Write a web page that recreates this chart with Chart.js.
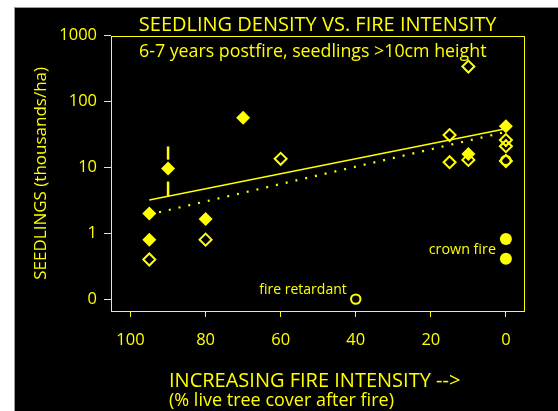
<!DOCTYPE html>
<html>
<head>
<meta charset="utf-8">
<script src="https://cdn.jsdelivr.net/npm/chart.js@4/dist/chart.umd.min.js"></script>
<style>
  html, body { margin: 0; padding: 0; background: #fff; width: 558px; height: 411px; overflow: hidden; }
  #frame { position: absolute; left: 14px; top: 7px; width: 544px; height: 404px;
           border-left: 1px solid #9c9c9c; border-top: 1px solid #9c9c9c; background: #000; }
  canvas { display: block; }
</style>
</head>
<body>
<div id="frame"><canvas id="chart" width="544" height="404"></canvas></div>
<script>
// x: % live tree cover after fire (reversed axis), y: seedlings in thousands/ha (log axis)
const filledDiamondX = [90, 95, 95, 80, 70, 10, 0];
const filledDiamondY = [9.6, 2.0, 0.8, 1.65, 57, 16, 42];

const openDiamondX = [95, 80, 60, 15, 15, 10, 10, 0, 0, 0];
const openDiamondY = [0.4, 0.8, 13.5, 31, 12, 340, 13, 26, 21, 12.5];

const openCircleX = [40, 0];
const openCircleY = [0.1, 12.8];

const crownFireX = [0, 0];
const crownFireY = [0.82, 0.41];

// regression lines (endpoints)
const fitSolidX = [95, 0];
const fitSolidY = [3.2, 38.5];
const fitDottedX = [95, 0];
const fitDottedY = [1.93, 34.6];

// split error bar on the 90% point
const errorBarX = 90;
const errorBarSegments = [[20.8, 13.1], [6.1, 3.6]];

const xTickValues = [100, 80, 60, 40, 20, 0];
const yTickValues = [0.1, 1, 10, 100, 1000];
const yTickLabels = ['0', '1', '10', '100', '1000'];

const YELLOW = '#ffff00';
const FONT = "'Open Sans', 'Noto Sans', sans-serif";

const pts = (xs, ys) => xs.map((x, i) => ({ x: x, y: ys[i] }));

const annotations = {
  id: 'annotations',
  beforeDatasetsDraw(chart) {
    const { ctx, chartArea: a, scales: { x, y } } = chart;
    ctx.save();
    // plot frame
    ctx.strokeStyle = YELLOW;
    ctx.lineWidth = 1;
    const l = Math.round(a.left) + 0.5, r = Math.round(a.right) + 0.5;
    const t = Math.round(a.top) + 0.5, b = Math.round(a.bottom) + 0.5;
    ctx.strokeRect(l, t, r - l, b - t);
    // error bar
    ctx.lineWidth = 2.5;
    const ex = x.getPixelForValue(errorBarX);
    errorBarSegments.forEach(([hi, lo]) => {
      ctx.beginPath();
      ctx.moveTo(ex, y.getPixelForValue(hi));
      ctx.lineTo(ex, y.getPixelForValue(lo));
      ctx.stroke();
    });
    ctx.restore();
  },
  afterDraw(chart) {
    const { ctx, chartArea: a, scales: { x, y } } = chart;
    ctx.save();
    ctx.fillStyle = YELLOW;
    ctx.textBaseline = 'alphabetic';

    ctx.font = '17.8px ' + FONT;
    ctx.textAlign = 'left';
    ctx.fillText('6-7 years postfire, seedlings >10cm height', a.left + 28, a.top + 21);

    ctx.textAlign = 'right';
    ctx.font = '14.3px ' + FONT;
    ctx.fillText('crown fire', x.getPixelForValue(0) - 10, y.getPixelForValue(0.58) + 5);
    ctx.font = '14px ' + FONT;
    ctx.fillText('fire retardant', x.getPixelForValue(40) - 9, y.getPixelForValue(0.1) - 5);

    ctx.textAlign = 'left';
    ctx.font = '20px ' + FONT;
    ctx.fillText('INCREASING FIRE INTENSITY -->', a.left + 58, a.bottom + 75.5);
    ctx.font = '18px ' + FONT;
    ctx.fillText('(% live tree cover after fire)', a.left + 58, a.bottom + 94.5);
    ctx.restore();
  }
};

new Chart(document.getElementById('chart'), {
  type: 'scatter',
  data: {
    datasets: [
      {
        data: pts(filledDiamondX, filledDiamondY), order: 1,
        pointStyle: 'rectRot', pointRadius: 7, borderWidth: 0,
        backgroundColor: YELLOW, borderColor: YELLOW
      },
      {
        data: pts(crownFireX, crownFireY), order: 2,
        pointStyle: 'circle', pointRadius: 6, borderWidth: 0,
        backgroundColor: YELLOW, borderColor: YELLOW
      },
      {
        data: pts(openDiamondX, openDiamondY), order: 3,
        pointStyle: 'rectRot', pointRadius: 6, borderWidth: 2,
        backgroundColor: 'rgba(0,0,0,0)', borderColor: YELLOW
      },
      {
        data: pts(openCircleX, openCircleY), order: 4,
        pointStyle: 'circle', pointRadius: 4.7, borderWidth: 2,
        backgroundColor: 'rgba(0,0,0,0)', borderColor: YELLOW
      },
      {
        data: pts(fitSolidX, fitSolidY), order: 10, showLine: true,
        pointRadius: 0, borderWidth: 1.5, borderColor: YELLOW
      },
      {
        data: pts(fitDottedX, fitDottedY), order: 11, showLine: true,
        pointRadius: 0, borderWidth: 2.2, borderColor: YELLOW,
        borderDash: [2, 8], borderCapStyle: 'butt'
      }
    ]
  },
  options: {
    responsive: false,
    animation: false,
    events: [],
    layout: { padding: { left: 0, right: 34.7, top: 0, bottom: 0 } },
    plugins: {
      legend: { display: false },
      tooltip: { enabled: false },
      title: {
        display: true,
        text: 'SEEDLING DENSITY VS. FIRE INTENSITY',
        color: YELLOW,
        fullSize: false,
        font: { family: FONT, size: 20, weight: 'normal', lineHeight: 1 },
        padding: { top: 7.5, bottom: 0.2 }
      }
    },
    scales: {
      x: {
        type: 'linear',
        reverse: true,
        min: -4.9,
        max: 105.2,
        afterBuildTicks: s => { s.ticks = xTickValues.map(v => ({ value: v })); },
        afterFit: s => { s.height = 101; },
        border: { display: false },
        grid: { drawOnChartArea: false, drawTicks: true, tickLength: 6, color: YELLOW, tickColor: YELLOW, tickWidth: 1 },
        ticks: { color: YELLOW, font: { family: FONT, size: 16.5 }, padding: 13, maxRotation: 0, autoSkip: false }
      },
      y: {
        type: 'logarithmic',
        min: 0.066,
        max: 1000,
        afterBuildTicks: s => { s.ticks = yTickValues.map(v => ({ value: v })); },
        afterFit: s => { s.width = 96; },
        border: { display: false },
        grid: { drawOnChartArea: false, drawTicks: true, tickLength: 7, color: YELLOW, tickColor: YELLOW, tickWidth: 1 },
        ticks: {
          color: YELLOW, font: { family: FONT, size: 16.5 }, padding: 7,
          autoSkip: false,
          callback: (v, i) => yTickLabels[i]
        },
        title: {
          display: true,
          text: 'SEEDLINGS (thousands/ha)',
          color: YELLOW,
          font: { family: FONT, size: 17 },
          padding: { top: 16, bottom: 0 }
        }
      }
    }
  },
  plugins: [annotations]
});
</script>
</body>
</html>
